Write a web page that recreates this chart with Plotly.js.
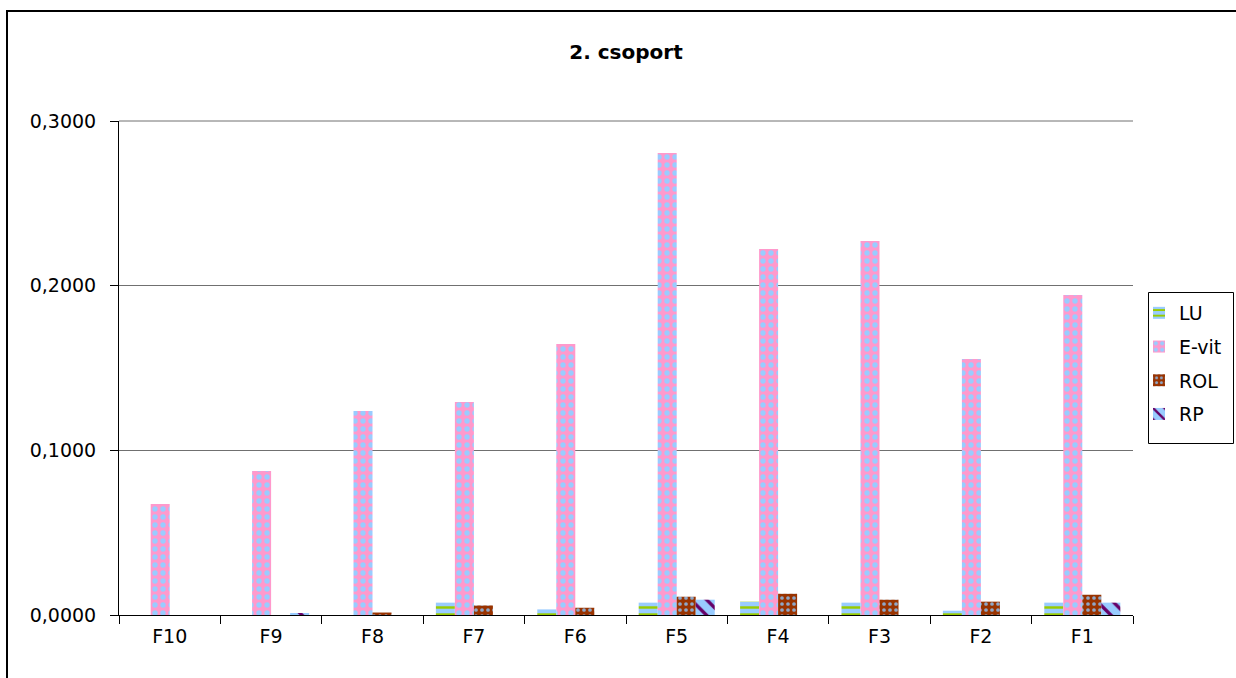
<!DOCTYPE html>
<html>
<head>
<meta charset="utf-8">
<script src="https://cdn.plot.ly/plotly-3.0.1.min.js"></script>
<style>
html,body{margin:0;padding:0;background:#fff;overflow:hidden;}
#wrap{position:relative;width:1236px;height:678px;overflow:hidden;}
#chart{width:1236px;height:678px;}
#frame{position:absolute;left:6px;top:10px;width:1400px;height:900px;border-left:2px solid #000;border-top:2px solid #000;pointer-events:none;box-sizing:border-box;}
</style>
</head>
<body>
<div id="wrap"><div id="chart"></div><div id="frame"></div></div>
<script>
const categories = ["F10","F9","F8","F7","F6","F5","F4","F3","F2","F1"];
const seriesNames = ["LU","E-vit","ROL","RP"];
const LU   = [0, 0, 0, 0.0075, 0.0034, 0.0075, 0.0081, 0.0075, 0.0026, 0.0075];
const Evit = [0.0674, 0.0874, 0.1239, 0.1293, 0.1645, 0.2805, 0.2222, 0.2271, 0.1554, 0.1943];
const ROL  = [0, 0, 0.0015, 0.0058, 0.0044, 0.0111, 0.0129, 0.0093, 0.0081, 0.0123];
const RP   = [0, 0.0012, 0, 0, 0, 0.0093, 0, 0, 0, 0.0075];
const yTicks = [0, 0.1, 0.2, 0.3];

const font = {family: "DejaVu Sans, Arial, sans-serif", size: 19, color: "#000"};

function bar(name, y, pattern, grp) {
  return {
    type: "bar", name: name, x: categories, y: y, legendgroup: grp,
    marker: {color: pattern.bgcolor, line: {width: 0}, pattern: pattern},
    hoverinfo: "x+y+name"
  };
}

const data = [
  bar(seriesNames[0], LU,   {shape: "-", fgcolor: "#99CC00", bgcolor: "#99CCFF", size: 7, solidity: 0.35, fillmode: "replace"}, "g1"),
  bar(seriesNames[1], Evit, {shape: ".", fgcolor: "#99CCFF", bgcolor: "#FF99CC", size: 8, solidity: 0.35, fillmode: "replace"}, "g2"),
  bar(seriesNames[2], ROL,  {shape: ".", fgcolor: "#8FA8C8", bgcolor: "#993300", size: 6, solidity: 0.3, fillmode: "replace"}, "g3"),
  bar(seriesNames[3], RP,   {shape: "\\", fgcolor: "#660066", bgcolor: "#99CCFF", size: 11, solidity: 0.3, fillmode: "replace"}, "g4")
];

const W = 1014, H = 494, L = 119, T = 121;
const px = v => (v - L) / W;
const py = v => (T + H - v) / H;

const layout = {
  width: 1236, height: 678,
  margin: {l: 119, r: 103, t: 121, b: 63, autoexpand: false},
  paper_bgcolor: "#fff", plot_bgcolor: "#fff",
  font: font,
  separators: ",.",
  title: {text: "<b>2. csoport</b>", font: {family: font.family, size: 20, color: "#000"}, x: 0.5, xref: "paper", y: 1 - 52/678, yanchor: "middle"},
  barmode: "group", bargap: 0.25, bargroupgap: 0,
  xaxis: {
    type: "category", showgrid: false, showline: true, linecolor: "#000", linewidth: 1,
    ticks: "outside", tickson: "boundaries", ticklen: 8, tickcolor: "#000",
    ticklabelstandoff: 4,
    tickfont: font, fixedrange: true, zeroline: false, automargin: false
  },
  yaxis: {
    range: [0, 0.3], tickvals: yTicks, tickformat: ".4f",
    showgrid: true, gridcolor: "#707070", gridwidth: 1,
    showline: true, linecolor: "#000", linewidth: 1,
    ticks: "outside", ticklen: 8, tickcolor: "#000",
    ticklabelstandoff: 10,
    tickfont: font, zeroline: false, fixedrange: true, automargin: false
  },
  showlegend: true,
  legend: {
    xref: "container", yref: "container",
    x: 1139/1236, xanchor: "left", y: 1 - 294/678, yanchor: "top",
    borderwidth: 0, bgcolor: "rgba(0,0,0,0)",
    font: font, tracegroupgap: 6, traceorder: "grouped", itemwidth: 30
  },
  shapes: [{
    type: "line", xref: "paper", yref: "paper", x0: 0, x1: 1, y0: 1, y1: 1,
    line: {color: "#707070", width: 1}, layer: "below"
  }, {
    type: "rect", xref: "paper", yref: "paper",
    x0: px(1148.5), x1: px(1233.5), y0: py(443.5), y1: py(292.5),
    line: {color: "#000", width: 1}, fillcolor: "rgba(0,0,0,0)", layer: "above"
  }]
};

Plotly.newPlot("chart", data, layout, {displayModeBar: false, staticPlot: true});
</script>
</body>
</html>
